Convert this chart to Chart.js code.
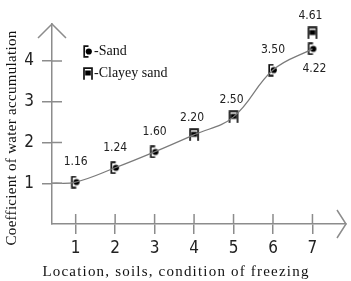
<!DOCTYPE html>
<html>
<head>
<meta charset="utf-8">
<script src="https://cdn.jsdelivr.net/npm/chart.js@4.4.0/dist/chart.umd.min.js"></script>
<style>
  html, body { margin: 0; padding: 0; background: #fff; }
  #wrap { width: 351px; height: 281px; }
</style>
</head>
<body>
<div id="wrap"><canvas id="chart"></canvas></div>
<script>
// values
var xTicks = [1, 2, 3, 4, 5, 6, 7];
var yTicks = [1, 2, 3, 4];
var curveX = [0.4, 1, 2, 3, 4, 5, 6, 7];
var curveY = [1.0, 1.03, 1.38, 1.77, 2.19, 2.63, 3.78, 4.30];
var sandX = [1, 2, 3, 6, 7];
var sandY = [1.03, 1.38, 1.77, 3.78, 4.30];
var sandNotes = ['1.16', '1.24', '1.60', '3.50', '4.22'];
var clayX = [4, 5, 7];
var clayY = [2.19, 2.63, 4.69];
var clayNotes = ['2.20', '2.50', '4.61'];

var numFont = '"DejaVu Sans Condensed", "Liberation Sans Narrow", "DejaVu Sans", sans-serif';
var serifFont = '"Liberation Serif", "DejaVu Serif", serif';
var axisGray = '#8c8c8c';

function pts(xs, ys) {
    return xs.map(function (x, i) { return { x: x, y: ys[i] }; });
}

function sandMark() {
    var c = document.createElement('canvas');
    c.width = 12; c.height = 13;
    var g = c.getContext('2d');
    g.strokeStyle = '#111'; g.lineWidth = 1.7;
    g.beginPath();
    g.moveTo(6.5, 1.2); g.lineTo(2.2, 1.2); g.lineTo(2.2, 11.8); g.lineTo(6.5, 11.8);
    g.stroke();
    g.fillStyle = '#000';
    g.beginPath(); g.arc(6.8, 6.5, 3.1, 0, Math.PI * 2); g.fill();
    return c;
}

function clayMark() {
    var c = document.createElement('canvas');
    c.width = 12; c.height = 13;
    var g = c.getContext('2d');
    g.strokeStyle = '#111'; g.lineWidth = 1.7;
    g.beginPath();
    g.moveTo(2, 12.8); g.lineTo(2, 1.2); g.lineTo(10, 1.2); g.lineTo(10, 12.8);
    g.stroke();
    g.fillStyle = '#000';
    g.fillRect(3.2, 3.5, 5.6, 5);
    return c;
}

var sandImg = sandMark();
var clayImg = clayMark();

var extras = {
    id: 'extras',
    afterDraw: function (chart) {
        var ctx = chart.ctx, xs = chart.scales.x, ys = chart.scales.y, a = chart.chartArea;
        ctx.save();
        ctx.strokeStyle = axisGray; ctx.lineWidth = 1.5;
        ctx.beginPath();
        xTicks.forEach(function (v) {
            var px = xs.getPixelForValue(v);
            ctx.moveTo(px, a.bottom); ctx.lineTo(px, a.bottom - 10);
        });
        yTicks.forEach(function (v) {
            var py = ys.getPixelForValue(v);
            ctx.moveTo(a.left, py); ctx.lineTo(a.left + 10, py);
        });
        ctx.moveTo(a.left - 14, a.top + 14); ctx.lineTo(a.left, a.top); ctx.lineTo(a.left + 14, a.top + 14);
        ctx.moveTo(a.right - 9, a.bottom - 14); ctx.lineTo(a.right, a.bottom); ctx.lineTo(a.right - 9, a.bottom + 14);
        ctx.stroke();

        // value notes
        ctx.fillStyle = '#222';
        ctx.font = '12px ' + numFont;
        ctx.textAlign = 'center'; ctx.textBaseline = 'middle';
        sandX.forEach(function (x, i) {
            var off = (i === sandX.length - 1) ? 20 : -20;
            ctx.fillText(sandNotes[i], xs.getPixelForValue(x) + (off > 0 ? 2 : 0), ys.getPixelForValue(sandY[i]) + off);
        });
        clayX.forEach(function (x, i) {
            ctx.fillText(clayNotes[i], xs.getPixelForValue(x) - 2, ys.getPixelForValue(clayY[i]) - 17);
        });

        // legend
        ctx.drawImage(sandImg, 82, 45);
        ctx.drawImage(clayImg, 82, 67);
        ctx.font = '14px ' + serifFont;
        ctx.textAlign = 'left';
        ctx.fillStyle = '#111';
        ctx.fillText('-Sand', 94, 51);
        ctx.fillText('-Clayey sand', 94, 73);

        // axis titles
        ctx.font = '15px ' + serifFont;
        ctx.textAlign = 'center';
        ctx.letterSpacing = '1.2px';
        ctx.fillText('Location, soils, condition of freezing', 176, 272);
        ctx.letterSpacing = '0.3px';
        ctx.translate(12, 138);
        ctx.rotate(-Math.PI / 2);
        ctx.fillText('Coefficient of water accumulation', 0, 0);
        ctx.restore();
    }
};

new Chart(document.getElementById('chart'), {
    type: 'scatter',
    data: {
        datasets: [{
            data: pts(curveX, curveY),
            showLine: true,
            borderColor: '#7a7a7a',
            borderWidth: 1.2,
            tension: 0.4,
            pointRadius: 0
        }, {
            data: pts(sandX, sandY),
            pointStyle: sandImg
        }, {
            data: pts(clayX, clayY),
            pointStyle: clayImg
        }]
    },
    options: {
        responsive: true,
        maintainAspectRatio: false,
        animation: false,
        layout: { padding: { top: 24, right: 0, left: 0, bottom: 0 } },
        plugins: { legend: { display: false }, tooltip: { enabled: false } },
        scales: {
            x: {
                type: 'linear',
                min: 0.4,
                max: 7.85,
                afterFit: function (s) { s.height = 57; },
                afterBuildTicks: function (s) { s.ticks = xTicks.map(function (v) { return { value: v }; }); },
                grid: { drawOnChartArea: false, tickLength: 10, color: axisGray, lineWidth: 1.5 },
                border: { color: axisGray, width: 1.5 },
                ticks: { padding: 4, color: '#222', font: { family: numFont, size: 17 } }
            },
            y: {
                min: 0,
                max: 4.91,
                afterFit: function (s) { s.width = 52; },
                afterBuildTicks: function (s) { s.ticks = yTicks.map(function (v) { return { value: v }; }); },
                grid: { drawOnChartArea: false, tickLength: 10, color: axisGray, lineWidth: 1.5 },
                border: { color: axisGray, width: 1.5 },
                ticks: { padding: 8, color: '#222', font: { family: numFont, size: 17 } }
            }
        }
    },
    plugins: [extras]
});
</script>
</body>
</html>
